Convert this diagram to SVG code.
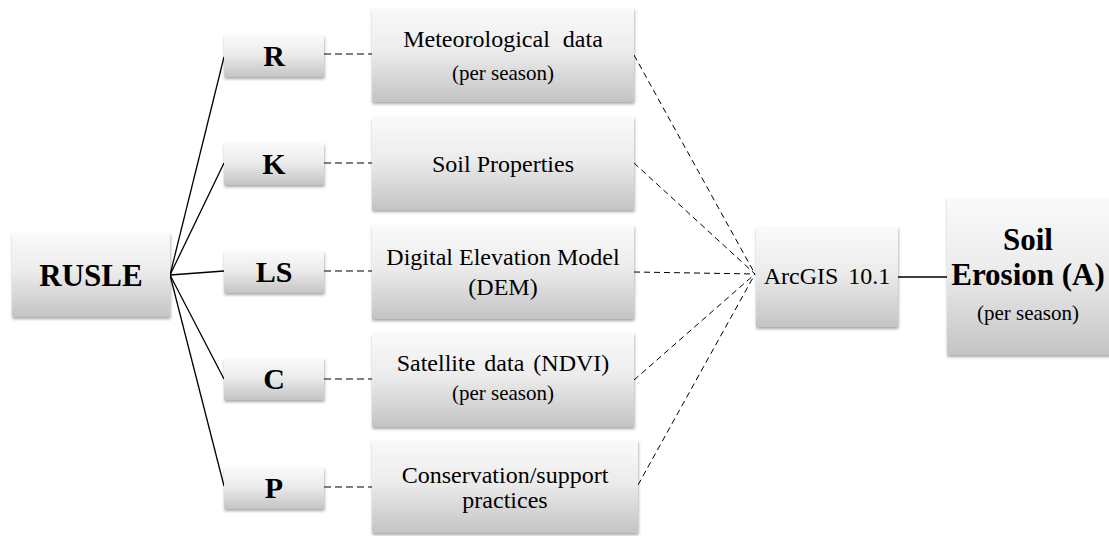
<svg xmlns="http://www.w3.org/2000/svg" width="1109" height="536" viewBox="0 0 1109 536">
<defs>
<linearGradient id="g" x1="0" y1="0" x2="0" y2="1">
<stop offset="0" stop-color="#fafafa"/>
<stop offset="0.45" stop-color="#ececec"/>
<stop offset="1" stop-color="#c4c4c4"/>
</linearGradient>
<filter id="sh" x="-10%" y="-10%" width="120%" height="130%">
<feDropShadow dx="0.5" dy="2" stdDeviation="1.5" flood-color="#000" flood-opacity="0.35"/>
</filter>
</defs>
<style>
.box{fill:url(#g);filter:url(#sh);}
.t{font-family:"Liberation Serif","Times New Roman",serif;fill:#000;text-anchor:middle;}
.m{font-size:24px;}
.s{font-size:21px;}
.b{font-size:30px;font-weight:bold;}
.bb{font-size:31px;font-weight:bold;}
.solid{stroke:#000;stroke-width:1.3;fill:none;}
.dash{stroke:#000;stroke-width:1.2;fill:none;stroke-dasharray:7 4;}
.dash2{stroke:#000;stroke-width:1;fill:none;stroke-dasharray:6 4;}
</style>
<rect width="1109" height="536" fill="#fff"/>
<g id="connectors">
<line class="solid" x1="170" y1="275" x2="224" y2="57"/>
<line class="solid" x1="170" y1="275" x2="224" y2="163"/>
<line class="solid" x1="170" y1="275" x2="224" y2="271"/>
<line class="solid" x1="170" y1="275" x2="224" y2="379"/>
<line class="solid" x1="170" y1="275" x2="224" y2="486"/>
<line class="dash" x1="324" y1="54" x2="372" y2="54"/>
<line class="dash" x1="324" y1="163" x2="372" y2="163"/>
<line class="dash" x1="324" y1="271" x2="372" y2="271"/>
<line class="dash" x1="324" y1="379" x2="372" y2="379"/>
<line class="dash" x1="324" y1="487" x2="372" y2="487"/>
<line class="dash2" x1="634" y1="55" x2="755" y2="274"/>
<line class="dash2" x1="634" y1="163" x2="755" y2="274"/>
<line class="dash2" x1="634" y1="272" x2="755" y2="274"/>
<line class="dash2" x1="634" y1="380" x2="755" y2="274"/>
<line class="dash2" x1="638" y1="485" x2="755" y2="274"/>
<line class="solid" x1="898" y1="277" x2="947" y2="277"/>
</g>
<g id="rusle">
<rect class="box" x="12" y="233" width="158" height="84"/>
<text class="t bb" x="91" y="286">RUSLE</text>
</g>
<g id="R">
<rect class="box" x="224" y="35" width="100" height="42"/>
<text class="t b" x="274" y="66">R</text>
</g>
<g id="K">
<rect class="box" x="224" y="143" width="100" height="42"/>
<text class="t b" x="274" y="174">K</text>
</g>
<g id="LS">
<rect class="box" x="224" y="251" width="100" height="42"/>
<text class="t b" x="274" y="282">LS</text>
</g>
<g id="C">
<rect class="box" x="224" y="358" width="100" height="42"/>
<text class="t b" x="274" y="389">C</text>
</g>
<g id="P">
<rect class="box" x="224" y="467" width="100" height="42"/>
<text class="t b" x="274" y="498">P</text>
</g>
<g id="meteo">
<rect class="box" x="372" y="8" width="262" height="94"/>
<text class="t m" x="503" y="47" word-spacing="7">Meteorological data</text>
<text class="t s" x="503" y="80">(per season)</text>
</g>
<g id="soil">
<rect class="box" x="372" y="117" width="262" height="93"/>
<text class="t m" x="503" y="172">Soil Properties</text>
</g>
<g id="dem">
<rect class="box" x="372" y="225" width="262" height="94"/>
<text class="t m" x="503" y="265">Digital Elevation Model</text>
<text class="t m" x="503" y="295">(DEM)</text>
</g>
<g id="sat">
<rect class="box" x="372" y="333" width="262" height="94"/>
<text class="t m" x="503" y="371" word-spacing="3">Satellite data (NDVI)</text>
<text class="t s" x="503" y="400">(per season)</text>
</g>
<g id="cons">
<rect class="box" x="372" y="440" width="266" height="93"/>
<text class="t m" x="505" y="483">Conservation/support</text>
<text class="t m" x="505" y="508">practices</text>
</g>
<g id="arcgis">
<rect class="box" x="756" y="227" width="142" height="100"/>
<text class="t m" x="827" y="284" word-spacing="4">ArcGIS 10.1</text>
</g>
<g id="erosion">
<rect class="box" x="947" y="198" width="166" height="157"/>
<text class="t bb" x="1028" y="250">Soil</text>
<text class="t bb" x="1028" y="285">Erosion (A)</text>
<text class="t s" x="1028" y="320">(per season)</text>
</g>
</svg>
